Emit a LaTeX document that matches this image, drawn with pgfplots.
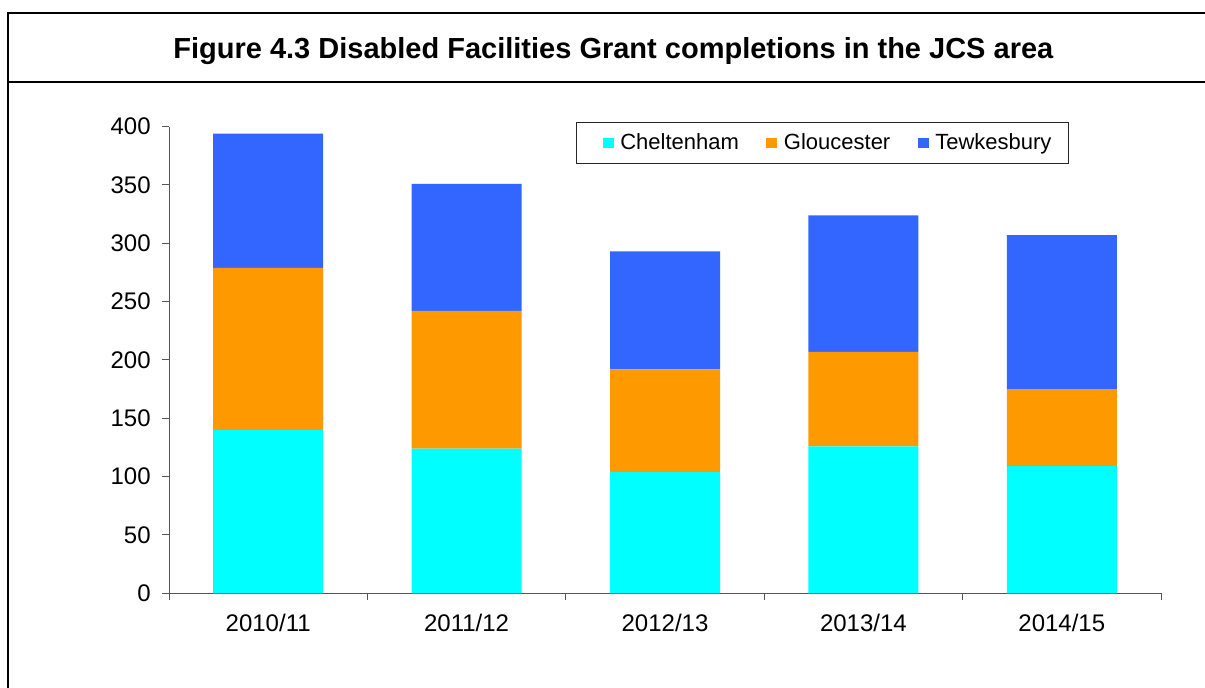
\documentclass[border=0pt]{standalone}
\usepackage{pgfplots}
\pgfplotsset{compat=1.18}
\usepackage{fontspec}
\setmainfont{Liberation Sans}
\definecolor{chel}{HTML}{00FFFF}
\definecolor{glou}{HTML}{FF9900}
\definecolor{tewk}{HTML}{3366FF}
\definecolor{axgray}{HTML}{555555}
\begin{document}
\begin{tikzpicture}
\useasboundingbox (0,0) rectangle (903.75pt,516pt);
\draw[line width=1.5pt] (6pt,-20pt) -- (6pt,506.25pt) -- (930pt,506.25pt);
\draw[line width=1.5pt] (6pt,454.5pt) -- (930pt,454.5pt);
\node[font=\fontsize{21.75}{26}\selectfont\bfseries] at (460pt,478pt) {Figure 4.3 Disabled Facilities Grant completions in the JCS area};
\begin{axis}[
  at={(126.75pt,71pt)}, anchor=south west,
  scale only axis, width=744pt, height=350pt,
  xmin=-0.5, xmax=4.5, ymin=0, ymax=400,
  ybar stacked, bar width=82.5pt,
  axis lines*=left,
  axis line style={axgray, line width=0.75pt},
  tick style={axgray, line width=0.75pt},
  tick align=outside, major tick length=5.25pt,
  xtick={-0.5,0.5,1.5,2.5,3.5,4.5},
  x tick label as interval,
  xticklabels={2010/11,2011/12,2012/13,2013/14,2014/15},
  ytick={0,50,100,150,200,250,300,350,400},
  /pgf/number format/assume math mode=true,
  ticklabel style={font=\fontsize{18}{21}\selectfont},
  yticklabel style={xshift=-5pt},
  xticklabel style={yshift=-6.5pt},
  legend style={at={(0.659,0.965)}, anchor=center, legend columns=3,
    draw=black!85, line width=0.75pt,
    font=\fontsize{16.5}{19}\selectfont,
    inner xsep=11pt, inner ysep=6.5pt,
    /tikz/every even column/.append style={column sep=10pt}},
  legend image code/.code={\path[draw=none,fill=none] (-8.5pt,-0.1pt) rectangle (11.25pt,0.1pt);\fill[#1, draw=none] (0pt,-4.1pt) rectangle (8.25pt,4.1pt);},
]
\addplot[fill=chel, draw=none] coordinates {(0,140) (1,124) (2,104) (3,126) (4,109)};
\addplot[fill=glou, draw=none] coordinates {(0,139) (1,118) (2,88) (3,81) (4,66)};
\addplot[fill=tewk, draw=none] coordinates {(0,115) (1,109) (2,101) (3,117) (4,132)};
\legend{Cheltenham,Gloucester,Tewkesbury}
\end{axis}
\end{tikzpicture}
\end{document}
